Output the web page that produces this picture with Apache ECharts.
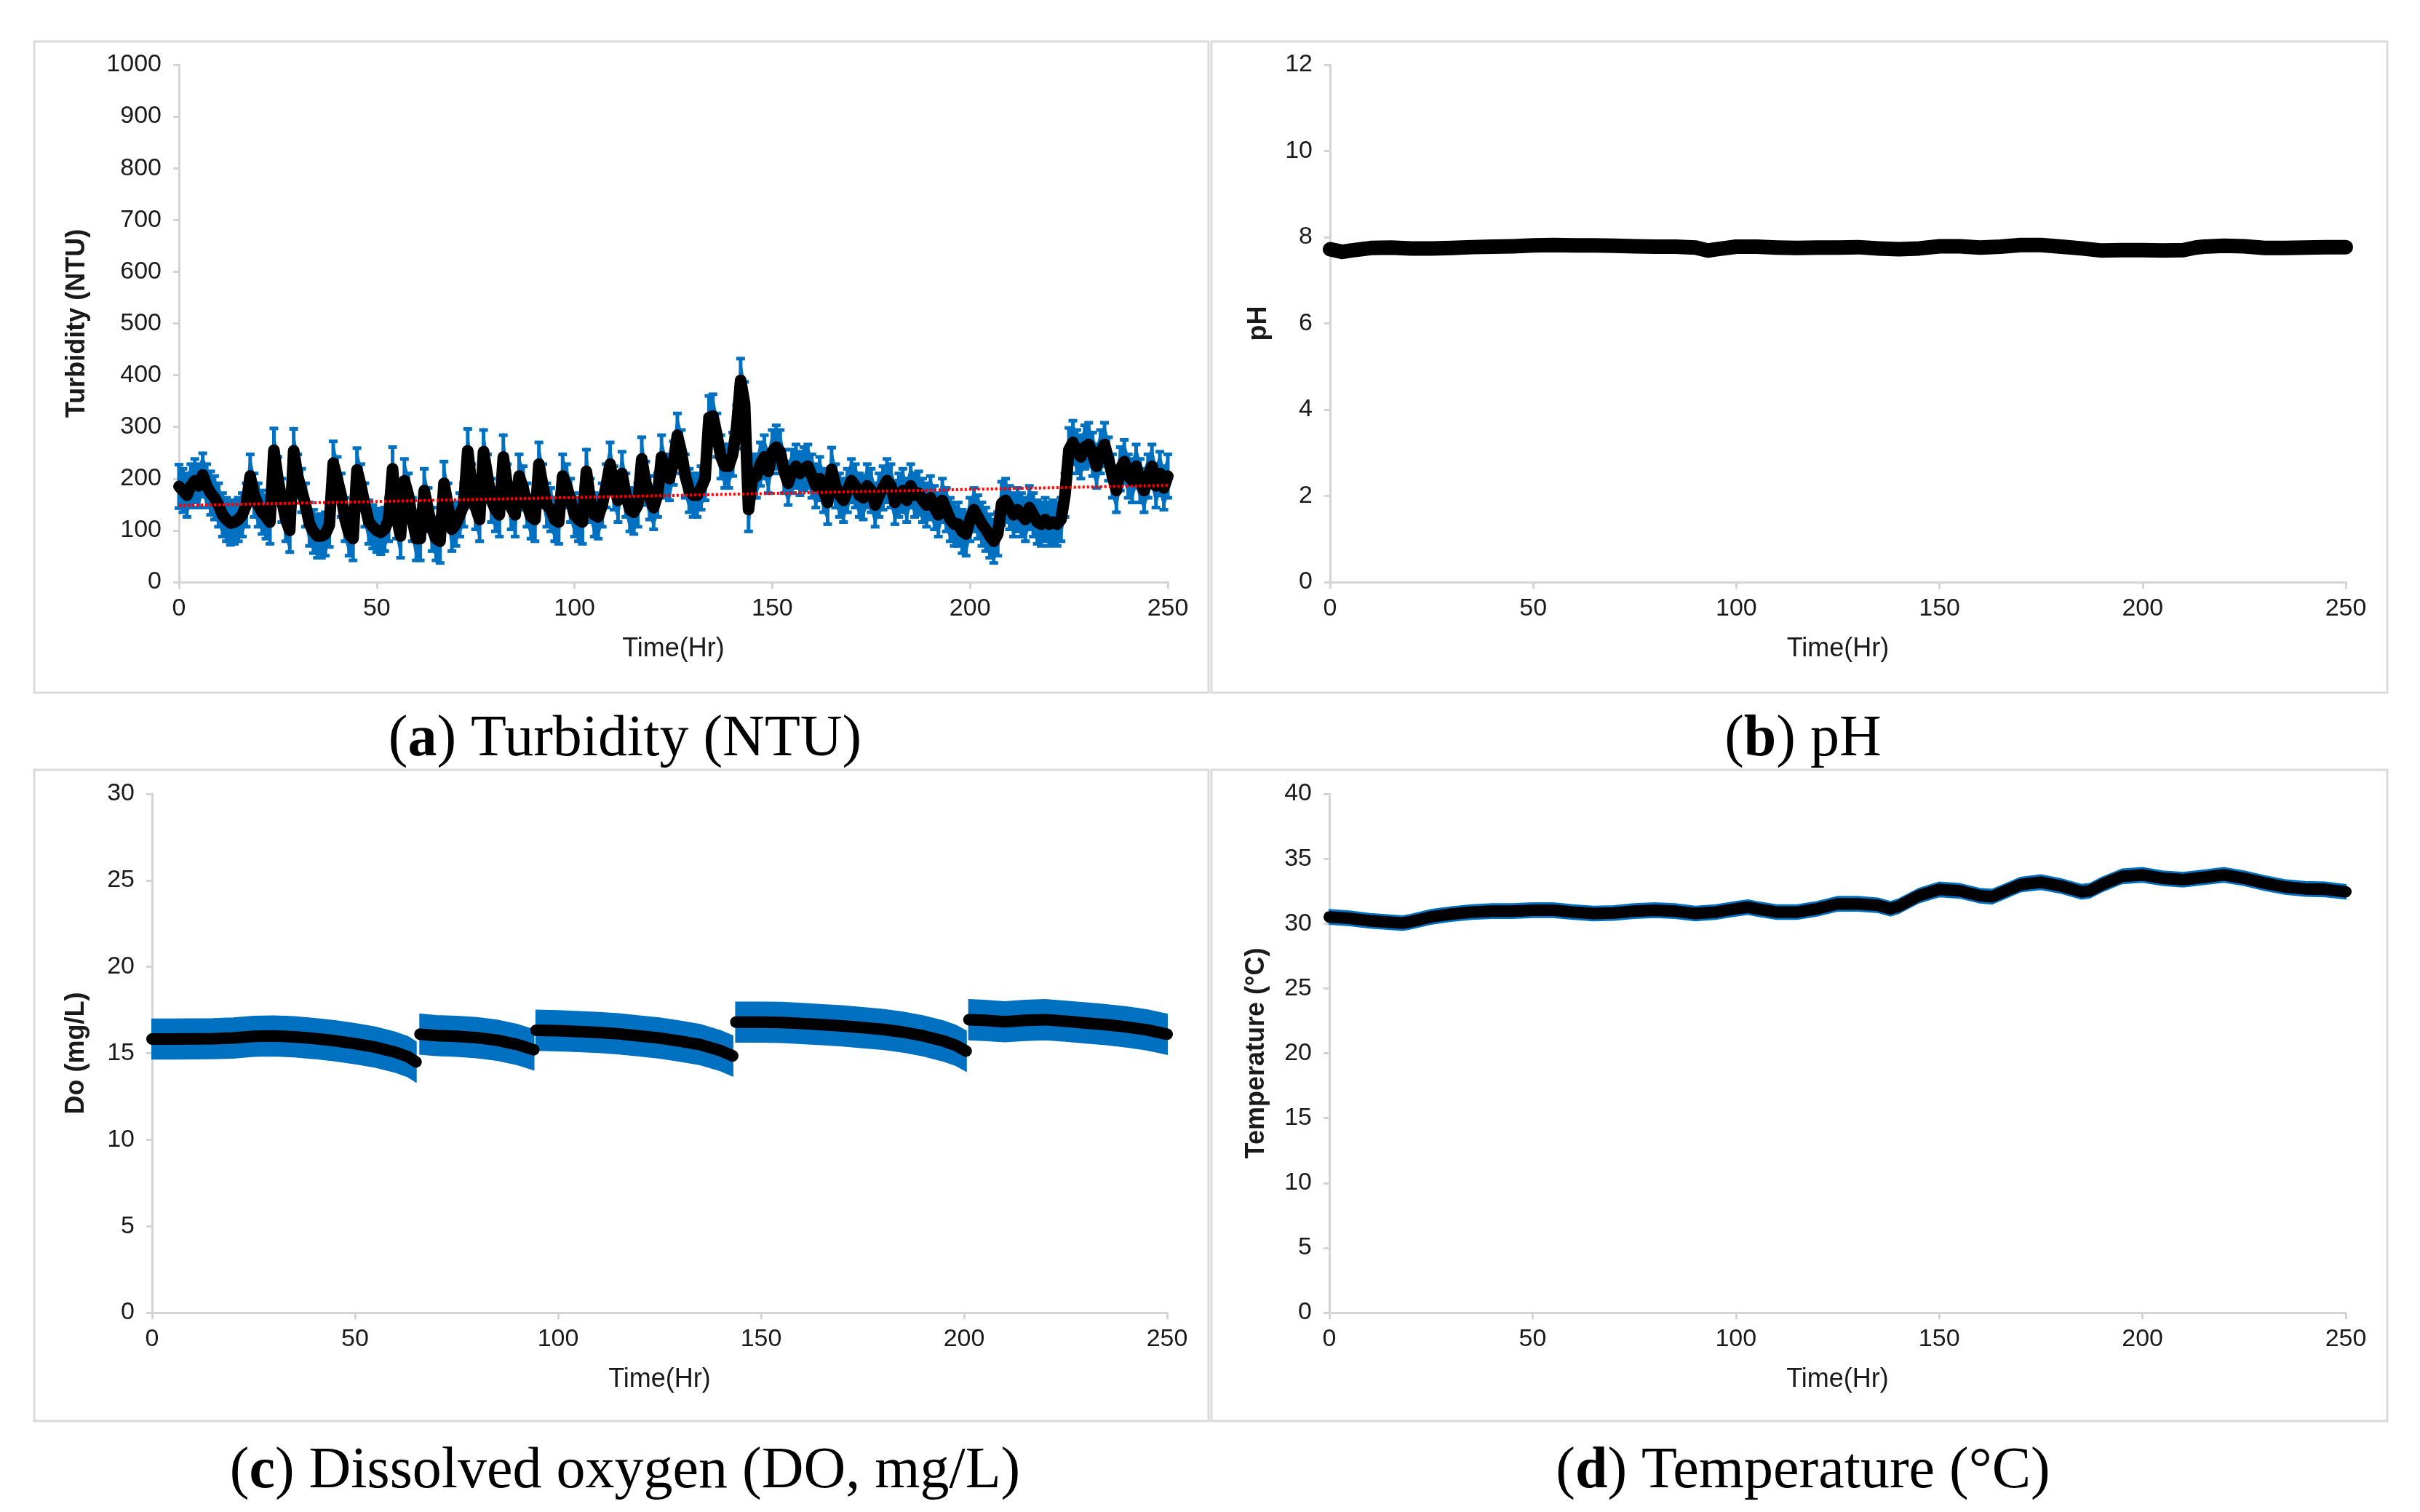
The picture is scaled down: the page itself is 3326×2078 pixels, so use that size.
<!DOCTYPE html>
<html>
<head>
<meta charset="utf-8">
<title>Water quality monitoring</title>
<script src="https://cdn.jsdelivr.net/npm/echarts@6/dist/echarts.min.js"></script>
<style>
  html, body { margin: 0; padding: 0; background: #fff; }
  #chartBox { width: 3326px; height: 2078px; }
</style>
</head>
<body>
<div id="chartBox"></div>
<script>
// (a) turbidity, one reading per hour, hours 0..250
var turbValue = [
    185, 177, 168, 186, 196, 186, 207, 186, 172, 163,
    149, 130, 121, 114, 116, 121, 130, 149, 205, 168,
    149, 135, 126, 116, 255, 200, 158, 121, 100, 254,
    205, 177, 149, 112, 98, 89, 89, 93, 110, 230,
    200, 168, 121, 93, 84, 217, 186, 149, 116, 107,
    100, 96, 102, 121, 219, 126, 89, 196, 168, 121,
    84, 84, 177, 140, 102, 84, 79, 191, 149, 102,
    112, 130, 149, 254, 186, 144, 121, 252, 205, 158,
    140, 130, 242, 186, 144, 130, 205, 182, 149, 126,
    121, 228, 186, 149, 140, 121, 116, 205, 186, 158,
    130, 121, 116, 214, 158, 130, 126, 149, 186, 228,
    182, 158, 210, 168, 140, 135, 149, 238, 191, 163,
    144, 168, 242, 205, 200, 230, 284, 252, 205, 177,
    168, 168, 182, 200, 318, 321, 284, 242, 224, 224,
    247, 300, 390, 345, 140, 205, 205, 228, 242, 214,
    252, 261, 252, 214, 191, 214, 224, 210, 219, 224,
    205, 186, 200, 177, 154, 218, 186, 168, 158, 177,
    196, 186, 168, 163, 186, 177, 149, 168, 182, 196,
    186, 154, 168, 177, 158, 186, 168, 172, 158, 149,
    163, 144, 130, 158, 140, 121, 112, 112, 98, 93,
    121, 140, 126, 112, 102, 89, 79, 93, 152, 158,
    144, 130, 140, 130, 121, 144, 130, 116, 112, 121,
    112, 116, 112, 121, 168, 256, 270, 252, 242, 261,
    266, 247, 224, 252, 266, 238, 205, 177, 219, 233,
    205, 196, 224, 196, 177, 205, 224, 186, 210, 182,
    205
];
var turbErr = 42;
var trendTime = [0, 250];
var trendValue = [148, 187];

// (b) pH
var phTime = [0, 3, 5, 10, 15, 20, 25, 30, 35, 40, 45, 50, 55, 60, 65, 70, 75, 80, 85, 90, 93, 95,
    100, 105, 110, 115, 120, 125, 130, 135, 140, 145, 150, 155, 160, 165, 170, 175, 180, 185, 190,
    195, 200, 205, 210, 213, 215, 220, 225, 230, 235, 240, 245, 250];
var phValue = [7.72, 7.66, 7.69, 7.75, 7.76, 7.74, 7.74, 7.75, 7.77, 7.78, 7.79, 7.81, 7.82, 7.81, 7.81, 7.80, 7.79, 7.78, 7.78, 7.76, 7.69, 7.72,
    7.78, 7.78, 7.76, 7.75, 7.76, 7.76, 7.77, 7.74, 7.72, 7.74, 7.79, 7.79, 7.76, 7.78, 7.82, 7.82, 7.78, 7.74, 7.69,
    7.70, 7.70, 7.69, 7.70, 7.76, 7.78, 7.80, 7.79, 7.75, 7.75, 7.76, 7.77, 7.77];
var phErr = 0.08;

// (c) dissolved oxygen, null = gap between runs
var doTime = [0, 5, 10, 15, 20, 25, 30, 35, 40, 45, 50, 55, 60, 63, 65, 65.5,
    66, 70, 75, 80, 85, 90, 94, 94.3,
    94.6, 100, 105, 110, 115, 120, 125, 130, 135, 140, 143, 143.4,
    143.8, 150, 155, 160, 165, 170, 175, 180, 185, 190, 195, 198, 200.5, 200.8,
    201.2, 205, 210, 215, 220, 225, 230, 235, 240, 245, 250];
var doValue = [15.82, 15.82, 15.83, 15.84, 15.88, 15.98, 16.0, 15.95, 15.85, 15.72, 15.55, 15.35, 15.05, 14.8, 14.5, null,
    16.1, 16.02, 15.98, 15.9, 15.75, 15.5, 15.2, null,
    16.33, 16.3, 16.25, 16.2, 16.12, 16.0, 15.88, 15.7, 15.5, 15.15, 14.85, null,
    16.8, 16.8, 16.78, 16.72, 16.65, 16.58, 16.48, 16.38, 16.22, 16.0, 15.7, 15.45, 15.13, null,
    16.94, 16.9, 16.82, 16.9, 16.94, 16.85, 16.75, 16.65, 16.52, 16.35, 16.1];
var doErr = 1.15;

// (d) temperature
var tempTime = [0, 5, 10, 15, 18, 20, 25, 30, 35, 40, 45, 50, 55, 60, 65, 70, 75, 80, 85, 90, 95,
    100, 103, 105, 110, 115, 120, 125, 130, 135, 138, 140, 145, 150, 155, 160, 163, 165, 170, 175,
    180, 185, 187, 190, 195, 200, 205, 210, 215, 220, 225, 230, 235, 240, 245, 250];
var tempValue = [30.51, 30.4, 30.21, 30.1, 30.03, 30.14, 30.51, 30.73, 30.88, 30.96, 30.96, 31.03, 31.03, 30.88, 30.77, 30.81, 30.96, 31.03, 30.96, 30.77, 30.88,
    31.14, 31.26, 31.14, 30.88, 30.88, 31.14, 31.52, 31.52, 31.4, 31.14, 31.33, 32.15, 32.63, 32.52, 32.15, 32.07, 32.33, 33.0, 33.19,
    32.89, 32.45, 32.52, 33.0, 33.64, 33.75, 33.49, 33.38, 33.56, 33.75, 33.49, 33.12, 32.82, 32.67, 32.63, 32.45];
var tempErr = 0.55;

var xTicks = [0, 250, 50];
var errColor = '#0070c0';
var axisGray = '#d4d4d4';
var labelColor = '#1a1a1a';

function $each(arr, fn) {
    for (var i = 0; i < arr.length; i++) fn(i, arr[i]);
}

function pairs(time, values) {
    var out = [];
    $each(time, function (i, t) {
        out.push([t, values[i] == null ? '-' : values[i]]);
    });
    return out;
}

// split a series into runs at the null entries
function runs(time, values) {
    var list = [], cur = [];
    $each(time, function (i, t) {
        if (values[i] == null) {
            if (cur.length) list.push(cur);
            cur = [];
        } else {
            cur.push([t, values[i]]);
        }
    });
    if (cur.length) list.push(cur);
    return list;
}

// blue band of +/- err around each run
function bandSeries(idx, time, values, err) {
    var segs = runs(time, values);
    var data = [];
    $each(segs, function (i, s) { data.push([s[0][0], s[0][1], i]); });
    return {
        type: 'custom',
        xAxisIndex: idx, yAxisIndex: idx,
        z: 1, silent: true,
        renderItem: function (params, api) {
            var s = segs[api.value(2)];
            var pts = [];
            for (var i = 0; i < s.length; i++) pts.push(api.coord([s[i][0], s[i][1] + err]));
            for (var j = s.length - 1; j >= 0; j--) pts.push(api.coord([s[j][0], s[j][1] - err]));
            return {
                type: 'polygon',
                shape: { points: pts },
                style: { fill: errColor, stroke: errColor, lineWidth: 2 }
            };
        },
        data: data
    };
}

function dataLine(idx, data, width) {
    return {
        type: 'line',
        xAxisIndex: idx, yAxisIndex: idx,
        z: 2, silent: true,
        data: data,
        showSymbol: false,
        connectNulls: false,
        lineStyle: { color: '#000', width: width, cap: 'round', join: 'round' }
    };
}

var turbTime = [], turbData = [], turbErrData = [];
$each(turbValue, function (h, v) {
    turbTime.push(h);
    turbData.push([h, v]);
    turbErrData.push([h, v, turbErr]);
});

function xAxisOf(idx) {
    return {
        type: 'value', gridIndex: idx,
        min: xTicks[0], max: xTicks[1], interval: xTicks[2],
        name: 'Time(Hr)', nameLocation: 'middle', nameGap: 74,
        nameTextStyle: { fontSize: 36, color: labelColor, fontFamily: 'Liberation Sans' },
        axisLine: { lineStyle: { color: axisGray, width: 3 } },
        axisTick: { show: true, length: 9, lineStyle: { color: axisGray, width: 3 } },
        axisLabel: { fontSize: 34, color: labelColor, margin: 20, fontFamily: 'Liberation Sans' },
        splitLine: { show: false }
    };
}

function yAxisOf(idx, name, max, step, gap) {
    return {
        type: 'value', gridIndex: idx,
        min: 0, max: max, interval: step,
        name: name, nameLocation: 'middle', nameGap: gap, nameRotate: 90,
        nameTextStyle: { fontSize: 36, fontWeight: 'bold', color: labelColor, fontFamily: 'Liberation Sans' },
        axisLine: { show: true, lineStyle: { color: axisGray, width: 3 } },
        axisTick: { show: true, length: 8, lineStyle: { color: axisGray, width: 3 } },
        axisLabel: {
            fontSize: 34, color: labelColor, margin: 24, fontFamily: 'Liberation Sans',
            formatter: function (v) { return String(v); }
        },
        splitLine: { show: false }
    };
}

function caption(letter, text, cx, top) {
    return {
        text: '({b|' + letter + '}) ' + text,
        left: cx, top: top, textAlign: 'center',
        textStyle: {
            fontFamily: 'Liberation Serif', fontSize: 80, fontWeight: 'normal', color: '#000',
            rich: { b: { fontFamily: 'Liberation Serif', fontSize: 80, fontWeight: 'bold', color: '#000' } }
        }
    };
}

function frame(x1, y1, x2, y2) {
    return {
        type: 'rect', silent: true, z: -1,
        shape: { x: x1, y: y1, width: x2 - x1, height: y2 - y1 },
        style: { fill: 'none', stroke: '#dadada', lineWidth: 3 }
    };
}

var option = {
    backgroundColor: '#fff',
    animation: false,
    title: [
        caption('a', 'Turbidity (NTU)', 854, 972),
        caption('b', 'pH', 2473, 972),
        caption('c', 'Dissolved oxygen (DO, mg/L)', 854, 1978),
        caption('d', 'Temperature (\u00B0C)', 2473, 1978)
    ],
    graphic: [
        frame(47, 57, 1661, 952),
        frame(1665, 57, 3281, 952),
        frame(47, 1058, 1661, 1953),
        frame(1665, 1058, 3281, 1953)
    ],
    grid: [
        { left: 246, top: 89, width: 1359, height: 711 },
        { left: 1828, top: 89, width: 1396, height: 711 },
        { left: 209, top: 1091, width: 1395, height: 713 },
        { left: 1827, top: 1091, width: 1397, height: 713 }
    ],
    xAxis: [xAxisOf(0), xAxisOf(1), xAxisOf(2), xAxisOf(3)],
    yAxis: [
        yAxisOf(0, 'Turbidity (NTU)', 1000, 100, 122),
        yAxisOf(1, 'pH', 12, 2, 80),
        yAxisOf(2, 'Do (mg/L)', 30, 5, 86),
        yAxisOf(3, 'Temperature (\u00B0C)', 40, 5, 82)
    ],
    series: [
        bandSeries(0, turbTime, turbValue, turbErr * 0.85),
        {
            // error bars with caps
            type: 'custom',
            xAxisIndex: 0, yAxisIndex: 0,
            z: 1, silent: true,
            renderItem: function (params, api) {
                var x = api.value(0), y = api.value(1), e = api.value(2);
                var hi = api.coord([x, y + e]);
                var lo = api.coord([x, y - e]);
                var cap = 6;
                var st = { stroke: errColor, lineWidth: 5 };
                return {
                    type: 'group',
                    children: [
                        { type: 'line', shape: { x1: hi[0], y1: hi[1], x2: lo[0], y2: lo[1] }, style: st },
                        { type: 'line', shape: { x1: hi[0] - cap, y1: hi[1], x2: hi[0] + cap, y2: hi[1] }, style: st },
                        { type: 'line', shape: { x1: lo[0] - cap, y1: lo[1], x2: lo[0] + cap, y2: lo[1] }, style: st }
                    ]
                };
            },
            data: turbErrData
        },
        dataLine(0, turbData, 16),
        {
            type: 'line',
            xAxisIndex: 0, yAxisIndex: 0,
            z: 3, silent: true, showSymbol: false,
            data: pairs(trendTime, trendValue),
            lineStyle: { color: '#ff0000', width: 4, type: [3, 3] }
        },
        bandSeries(1, phTime, phValue, phErr),
        dataLine(1, pairs(phTime, phValue), 20),
        bandSeries(2, doTime, doValue, doErr),
        dataLine(2, pairs(doTime, doValue), 16),
        bandSeries(3, tempTime, tempValue, tempErr),
        dataLine(3, pairs(tempTime, tempValue), 16)
    ]
};

var myChart = echarts.init(document.getElementById('chartBox'));
myChart.setOption(option);
</script>
</body>
</html>
